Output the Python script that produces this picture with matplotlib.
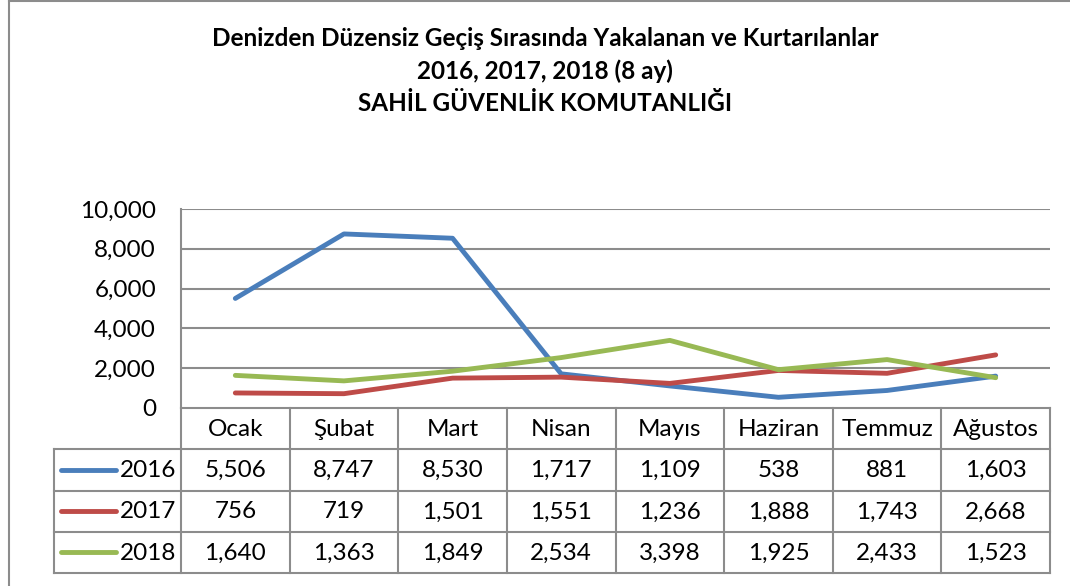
import matplotlib
matplotlib.use("Agg")
import matplotlib.pyplot as plt
from matplotlib.lines import Line2D

months = ["Ocak", "Şubat", "Mart", "Nisan", "Mayıs", "Haziran", "Temmuz", "Ağustos"]
series_names = ["2016", "2017", "2018"]
v2016 = [5506, 8747, 8530, 1717, 1109, 538, 881, 1603]
v2017 = [756, 719, 1501, 1551, 1236, 1888, 1743, 2668]
v2018 = [1640, 1363, 1849, 2534, 3398, 1925, 2433, 1523]
yticks = [0, 2000, 4000, 6000, 8000, 10000]
title_lines = ["Denizden Düzensiz Geçiş Sırasında Yakalanan ve Kurtarılanlar",
               "2016, 2017, 2018 (8 ay)",
               "SAHİL GÜVENLİK KOMUTANLIĞI"]

colors = ["#4A7EBB", "#BE4B48", "#98B954"]
grid_c = "#8C8C8C"
plt.rcParams['font.family'] = ['Lato', 'DejaVu Sans']
FS = 17.5

W, H = 1070, 586
fig = plt.figure(figsize=(W / 100, H / 100), dpi=100)

def fx(px): return px / W
def fy(py): return 1 - py / H

# figure border
fig.add_artist(Line2D([fx(8.5), fx(8.5)], [fy(0.5), 0], color="#8C8C8C", lw=1.5, transform=fig.transFigure))
fig.add_artist(Line2D([fx(8.5), 1], [fy(0.8), fy(0.8)], color="#8C8C8C", lw=1.5, transform=fig.transFigure))

# title
for yy, line in zip([38, 71, 103], title_lines):
    fig.text(fx(545), fy(yy), line, ha="center", va="center", fontsize=17.5, fontweight="bold")

# main plot
L, R, T, B = 181, 1050, 209, 408
ax = fig.add_axes([fx(L), fy(B), fx(R) - fx(L), fy(T) - fy(B)])
n = len(months)
ax.set_xlim(0, n)
ax.set_ylim(0, 10000)
xs = [i + 0.5 for i in range(n)]
for vals, c in zip([v2016, v2017, v2018], colors):
    ax.plot(xs, vals, color=c, lw=3.5, solid_capstyle="round", solid_joinstyle="round", zorder=3)
ax.set_yticks(yticks)
ax.set_yticklabels([f"{t:,}" for t in yticks], fontsize=FS)
ax.tick_params(axis="y", length=0, pad=18)
ax.set_xticks([])
for t in yticks[1:]:
    ax.axhline(t, color=grid_c, lw=1.5, zorder=1)
for s in ["top", "right", "bottom"]:
    ax.spines[s].set_visible(False)
ax.spines["left"].set_color(grid_c)
ax.spines["left"].set_linewidth(1.5)

# table
TL, TT, TB = 54, 408, 573
colw = (R - L) / n
tax = fig.add_axes([fx(TL), fy(TB), fx(R) - fx(TL), fy(TT) - fy(TB)])
xl = -(L - TL) / colw
tax.set_xlim(xl, n)
tax.set_ylim(4, 0)
tax.axis("off")
lk = dict(color=grid_c, lw=1.5, clip_on=False)
tax.plot([0, n], [0, 0], **lk)
for r in [1, 2, 3, 4]:
    tax.plot([xl, n], [r, r], **lk)
tax.plot([xl, xl], [1, 4], **lk)
for c in range(n + 1):
    tax.plot([c, c], [0, 4], **lk)
for i, m in enumerate(months):
    tax.text(i + 0.5, 0.52, m, ha="center", va="center", fontsize=FS)
for r, (name, vals, c) in enumerate(zip(series_names, [v2016, v2017, v2018], colors), start=1):
    tax.plot([xl + 0.065, xl + 0.57], [r + 0.5, r + 0.5], color=c, lw=3.5, solid_capstyle="round", clip_on=False)
    tax.text(xl + 0.61, r + 0.52, name, ha="left", va="center", fontsize=FS)
    for i, v in enumerate(vals):
        tax.text(i + 0.5, r + 0.52, f"{v:,}", ha="center", va="center", fontsize=FS)

fig.savefig("out.png", dpi=100)
